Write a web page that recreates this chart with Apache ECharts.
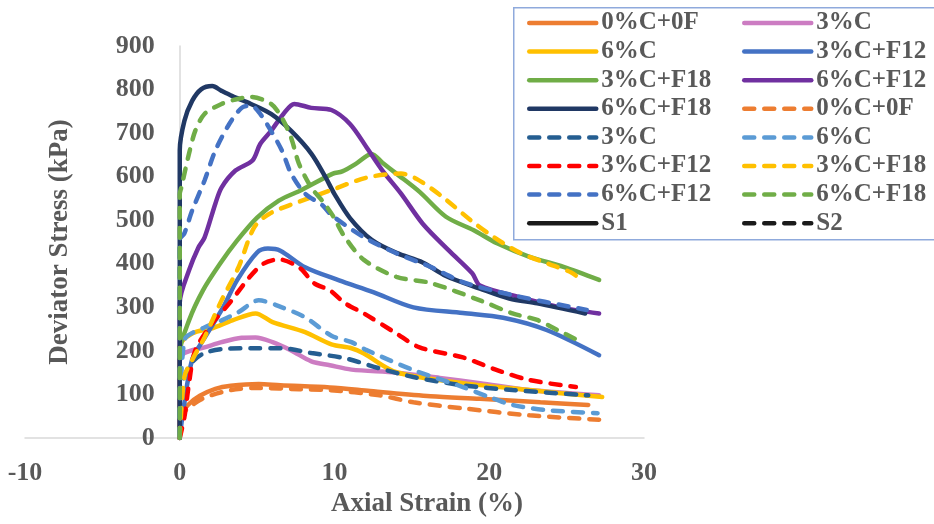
<!DOCTYPE html>
<html>
<head>
<meta charset="utf-8">
<script src="https://cdn.jsdelivr.net/npm/echarts@6/dist/echarts.min.js"></script>
<style>html,body{margin:0;padding:0;background:#fff}#c{width:934px;height:524px}</style>
</head>
<body>
<div id="c"></div>
<script>
// ---- Data (Axial strain %, Deviator stress kPa) ----
const solid_0C0F = [[0,0],[0,50],[0.6,78],[1.3,97],[2.3,113],[3.3,120],[5.1,124],[6.5,121],[9.7,116],[12.3,108],[16.2,96],[19.4,90],[23.3,82],[26.4,76]];
const solid_3C = [[0,0],[0,175],[0.3,195],[1.6,208],[2.7,220],[4.0,230],[4.9,231],[6.0,220],[7.2,201],[8.5,176],[9.7,167],[11.1,157],[14.0,150],[16.8,138],[19.4,126],[22.6,110],[27.1,98]];
const solid_6C = [[0,0],[0,210],[0.8,240],[2.1,252],[3.4,270],[4.9,286],[6.0,266],[8.1,243],[9.8,215],[11.1,206],[11.9,194],[14.0,151],[18.3,126],[22.6,110],[27.3,94]];
const solid_3CF12 = [[0,0],[0.2,57],[0.8,180],[1.5,224],[2.8,300],[3.7,362],[5.0,426],[5.7,435],[6.5,430],[8.1,392],[10.3,362],[12.5,335],[15.1,300],[18.3,287],[20.9,276],[23.7,248],[27.1,190]];
const solid_3CF18 = [[0,0],[0,195],[0.6,270],[1.5,339],[2.6,400],[3.7,453],[5.0,506],[6.4,545],[7.9,570],[9.9,607],[10.5,612],[11.4,630],[12.4,652],[13.1,632],[14.0,607],[15.5,565],[17.2,508],[19.0,477],[20.5,447],[22.6,416],[24.8,393],[27.1,363]];
const solid_6CF12 = [[0,0],[0,310],[0.6,385],[1.2,437],[1.6,460],[2.3,538],[2.7,575],[3.6,614],[4.7,637],[5.2,675],[5.9,705],[6.7,744],[7.4,767],[8.5,758],[9.8,753],[11.0,721],[12.1,666],[13.1,614],[14.3,561],[15.7,492],[17.4,430],[18.9,378],[19.4,350],[22.0,323],[24.6,300],[27.1,286]];
const solid_6CF18 = [[0,0],[0,660],[0.3,728],[0.8,774],[1.4,801],[2.1,808],[2.7,797],[3.4,785],[4.6,767],[5.9,744],[7.2,705],[8.5,653],[9.4,600],[10.0,560],[11.0,505],[12.4,455],[14.0,425],[15.7,403],[17.2,372],[19.4,343],[21.3,320],[23.1,309],[26.2,286]];
const dash_0C0F = [[0,0],[0,41],[1.3,87],[3.3,110],[5.1,115],[7.7,112],[9.7,110],[12.9,98],[15.1,82],[18.3,68],[22.6,52],[27.1,42]];
const dash_3C = [[0,0],[0.2,130],[0.8,174],[1.6,195],[2.7,204],[4.8,206],[6.6,206],[8.5,195],[10.7,183],[12.9,160],[15.1,140],[18.3,121],[21.5,110],[26.4,98]];
const dash_6C = [[0,0],[0.3,224],[1.6,254],[2.7,270],[3.8,289],[5.1,316],[6.6,300],[8.1,277],[9.8,235],[11.1,220],[12.0,203],[15.1,156],[18.3,117],[20.0,94],[21.5,76],[23.7,64],[27.0,57]];
const dash_3CF12 = [[0,0],[0.3,48],[0.6,126],[1.0,201],[2.1,263],[3.2,309],[4.5,369],[5.4,400],[6.4,410],[7.7,392],[8.7,355],[9.7,339],[10.7,309],[11.9,286],[14.0,240],[15.5,208],[18.3,185],[20.5,156],[22.6,133],[25.6,117]];
const dash_3CF18 = [[0,0],[0.3,140],[0.8,179],[1.6,231],[2.7,316],[3.8,392],[4.8,483],[5.8,515],[7.9,545],[9.7,568],[12.1,598],[14.3,607],[15.3,595],[17.0,553],[18.8,500],[20.3,461],[22.0,425],[24.2,395],[25.3,380],[25.8,367]];
const dash_6CF12 = [[0,0],[0,455],[0.3,470],[0.8,522],[1.6,591],[2.3,660],[3.2,721],[4.0,758],[4.6,763],[5.2,744],[5.9,705],[6.6,660],[7.2,607],[8.1,561],[9.2,535],[9.8,512],[11.9,461],[14.0,424],[16.2,393],[18.3,358],[21.5,328],[26.3,294]];
const dash_6CF18 = [[0,0],[0,560],[0.1,575],[0.6,653],[1.0,705],[1.6,744],[2.7,767],[3.8,779],[4.6,783],[5.9,767],[6.6,735],[7.2,689],[7.7,630],[8.5,575],[9.2,545],[9.9,510],[10.6,465],[11.9,409],[14.0,370],[16.2,356],[19.4,316],[21.5,286],[23.1,271],[24.4,248],[25.7,225]];
const S1 = [];
const S2 = [];

const seriesNames = ['0%C+0F','3%C','6%C','3%C+F12','3%C+F18','6%C+F12','6%C+F18','0%C+0F','3%C','6%C','3%C+F12','3%C+F18','6%C+F12','6%C+F18','S1','S2'];
const seriesData = [solid_0C0F,solid_3C,solid_6C,solid_3CF12,solid_3CF18,solid_6CF12,solid_6CF18,dash_0C0F,dash_3C,dash_6C,dash_3CF12,dash_3CF18,dash_6CF12,dash_6CF18,S1,S2];
const seriesColors = ['#ed7d31','#cc7cc2','#ffc000','#4472c4','#70ad47','#7030a0','#203864','#ed7d31','#255e91','#5b9bd5','#ff0000','#ffc000','#4472c4','#70ad47','#1a1a1a','#1a1a1a'];
const seriesDashed = [false,false,false,false,false,false,false,true,true,true,true,true,true,true,false,true];

const xTicks = {min: -10, max: 30, interval: 10};
const yTicks = {min: 0, max: 900, interval: 100};

const FONT = 'Liberation Serif';
const TXT = '#595959';

// unique ids for legend (dashed ones get trailing space)
const ids = seriesNames.map((n,i)=> seriesDashed[i] && n !== 'S2' ? n + ' ' : n);

const series = seriesData.map((d,i)=>({
  name: ids[i],
  type: 'line',
  data: d,
  symbol: 'none',
  showSymbol: false,
  smooth: 0.3,
  lineStyle: {width: 4.5, color: seriesColors[i], type: seriesDashed[i] ? [10,10] : 'solid', cap: 'round'},
  itemStyle: {color: seriesColors[i]},
  emphasis: {disabled: true}
}));

const col1 = ids.filter((_,i)=> i%2===0);
const col2 = ids.filter((_,i)=> i%2===1);

const legendBase = {
  orient: 'vertical', top: 9, itemWidth: 67, itemHeight: 28, itemGap: 0.6, padding: 0,
  itemStyle: {opacity: 0},
  lineStyle: {width: 4.5},
  textStyle: {fontFamily: FONT, fontWeight: 'bold', fontSize: 25, color: TXT, lineHeight: 28},
  selectedMode: false
};

const GRID_LEFT = 25, GRID_RIGHT_EDGE = 644;
const pxPerUnit = (GRID_RIGHT_EDGE - GRID_LEFT) / (xTicks.max - xTicks.min);

const chart = echarts.init(document.getElementById('c'), null, {renderer: 'canvas'});
chart.setOption({
  animation: false,
  backgroundColor: '#fff',
  grid: {left: GRID_LEFT, right: 934 - GRID_RIGHT_EDGE, top: 46, bottom: 86, outerBoundsMode: 'none'},
  graphic: [{type: 'rect', left: 513, top: 7, z: -1, shape: {width: 440, height: 232}, style: {fill: '#fff', stroke: '#8faadc', lineWidth: 1.5}}],
  legend: [
    Object.assign({}, legendBase, {left: 527, data: col1}),
    Object.assign({}, legendBase, {left: 742, data: col2})
  ],
  xAxis: {
    type: 'value', min: xTicks.min, max: xTicks.max, interval: xTicks.interval,
    axisLine: {lineStyle: {color: '#d9d9d9', width: 1.5}},
    axisTick: {show: false}, splitLine: {show: false},
    axisLabel: {margin: 22, fontFamily: FONT, fontWeight: 'bold', fontSize: 26, color: TXT},
    name: 'Axial Strain (%)', nameLocation: 'middle', nameGap: 50,
    nameTextStyle: {fontFamily: FONT, fontWeight: 'bold', fontSize: 27, color: TXT, padding: [0,0,0,185]}
  },
  yAxis: {
    type: 'value', min: yTicks.min, max: yTicks.max, interval: yTicks.interval,
    position: 'left', offset: -(0 - xTicks.min) * pxPerUnit,
    axisLine: {show: true, onZero: false, lineStyle: {color: '#d9d9d9', width: 1.5}},
    axisTick: {show: false}, splitLine: {show: false},
    axisLabel: {show: true, margin: 25, fontFamily: FONT, fontWeight: 'bold', fontSize: 26, color: TXT},
    name: 'Deviator Stress (kPa)', nameLocation: 'middle', nameGap: 106,
    nameTextStyle: {fontFamily: FONT, fontWeight: 'bold', fontSize: 27, color: TXT}
  },
  series: series
});
</script>
</body>
</html>
